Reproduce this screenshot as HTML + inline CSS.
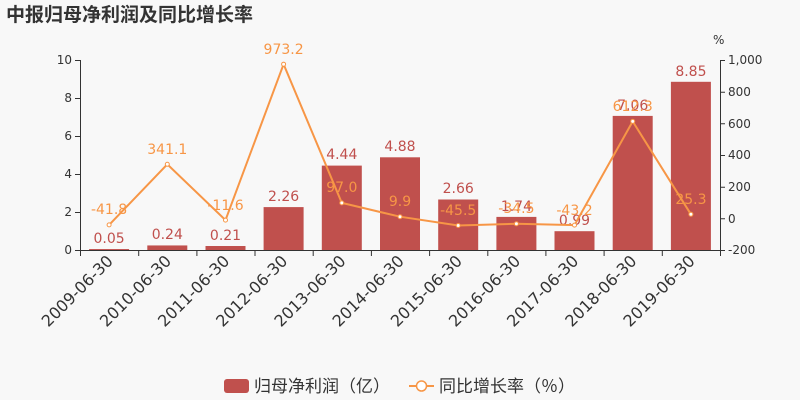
<!DOCTYPE html>
<html><head><meta charset="utf-8"><style>
body{margin:0;background:#f8f8f8;}
svg{display:block;font-family:"DejaVu Sans","Noto Sans CJK SC",sans-serif;}
</style></head><body>
<svg width="800" height="400" viewBox="0 0 800 400">
<rect width="800" height="400" fill="#f8f8f8"/>
<text x="6" y="21" font-size="19" font-weight="bold" fill="#333" font-family="'Noto Sans CJK SC',sans-serif">中报归母净利润及同比增长率</text>
<text x="713" y="44" font-size="12" fill="#333">%</text>
<g stroke="#333" stroke-width="1" fill="none">
<line x1="80.5" y1="60" x2="80.5" y2="250"/>
<line x1="720.5" y1="60" x2="720.5" y2="250"/>
<line x1="80" y1="250.5" x2="720" y2="250.5"/>
<path d="M75 60.5H80M75 98.5H80M75 136.5H80M75 174.5H80M75 212.5H80M75 250.5H80"/>
<path d="M720 60.5H725M720 92.2H725M720 123.8H725M720 155.5H725M720 187.2H725M720 218.8H725M720 250.5H725"/>
<path d="M80.5 250V256M138.7 250V256M196.9 250V256M255 250V256M313.2 250V256M371.4 250V256M429.6 250V256M487.8 250V256M545.9 250V256M604.1 250V256M662.3 250V256M720.5 250V256"/>
</g>
<g font-size="12" fill="#333" text-anchor="end">
<text x="72" y="64">10</text><text x="72" y="102">8</text><text x="72" y="140">6</text><text x="72" y="178">4</text><text x="72" y="216">2</text><text x="72" y="254">0</text>
</g>
<g font-size="12" fill="#333" text-anchor="start">
<text x="728" y="64">1,000</text><text x="728" y="96">800</text><text x="728" y="128">600</text><text x="728" y="159">400</text><text x="728" y="191">200</text><text x="728" y="223">0</text><text x="728" y="254">-200</text>
</g>
<g fill="#c0504d">
<rect x="89.1" y="249.05" width="40" height="0.95"/>
<rect x="147.3" y="245.44" width="40" height="4.56"/>
<rect x="205.5" y="246.01" width="40" height="3.99"/>
<rect x="263.6" y="207.1" width="40" height="42.9"/>
<rect x="321.8" y="165.6" width="40" height="84.4"/>
<rect x="380" y="157.3" width="40" height="92.7"/>
<rect x="438.2" y="199.5" width="40" height="50.5"/>
<rect x="496.4" y="216.9" width="40" height="33.1"/>
<rect x="554.5" y="231.2" width="40" height="18.8"/>
<rect x="612.7" y="115.9" width="40" height="134.1"/>
<rect x="670.9" y="81.8" width="40" height="168.2"/>
</g>
<g font-size="14" fill="#c0504d" text-anchor="middle">
<text x="109.1" y="243">0.05</text><text x="167.3" y="239">0.24</text><text x="225.5" y="240">0.21</text>
<text x="283.6" y="201">2.26</text><text x="341.8" y="159">4.44</text><text x="400" y="151">4.88</text>
<text x="458.2" y="193">2.66</text><text x="516.4" y="211">1.74</text><text x="574.5" y="225">0.99</text>
<text x="632.7" y="110">7.06</text><text x="690.9" y="76">8.85</text>
</g>
<polyline fill="none" stroke="#f79646" stroke-width="2" points="109.1,224.9 167.3,164.3 225.5,220.1 283.6,64.2 341.8,202.9 400,216.7 458.2,225.5 516.4,223.8 574.5,225.1 632.7,121.4 690.9,214.3"/>
<g fill="#fff" stroke="#f79646" stroke-width="1">
<circle cx="109.1" cy="224.9" r="2"/><circle cx="167.3" cy="164.3" r="2"/><circle cx="225.5" cy="220.1" r="2"/><circle cx="283.6" cy="64.2" r="2"/><circle cx="341.8" cy="202.9" r="2"/><circle cx="400" cy="216.7" r="2"/><circle cx="458.2" cy="225.5" r="2"/><circle cx="516.4" cy="223.8" r="2"/><circle cx="574.5" cy="225.1" r="2"/><circle cx="632.7" cy="121.4" r="2"/><circle cx="690.9" cy="214.3" r="2"/>
</g>
<g font-size="14" fill="#f79646" text-anchor="middle">
<text x="109.1" y="214">-41.8</text><text x="167.3" y="154">341.1</text><text x="225.5" y="210">-11.6</text>
<text x="283.6" y="54">973.2</text><text x="341.8" y="192">97.0</text><text x="400" y="206">9.9</text>
<text x="458.2" y="215">-45.5</text><text x="516.4" y="213">-34.5</text><text x="574.5" y="215">-43.2</text>
<text x="632.7" y="111">612.3</text><text x="690.9" y="204">25.3</text>
</g>
<g font-size="16" fill="#333" text-anchor="end">
<text transform="translate(114,262) rotate(-45)">2009-06-30</text>
<text transform="translate(172.2,262) rotate(-45)">2010-06-30</text>
<text transform="translate(230.4,262) rotate(-45)">2011-06-30</text>
<text transform="translate(288.5,262) rotate(-45)">2012-06-30</text>
<text transform="translate(346.7,262) rotate(-45)">2013-06-30</text>
<text transform="translate(404.9,262) rotate(-45)">2014-06-30</text>
<text transform="translate(463.1,262) rotate(-45)">2015-06-30</text>
<text transform="translate(521.3,262) rotate(-45)">2016-06-30</text>
<text transform="translate(579.4,262) rotate(-45)">2017-06-30</text>
<text transform="translate(637.6,262) rotate(-45)">2018-06-30</text>
<text transform="translate(695.8,262) rotate(-45)">2019-06-30</text>
</g>
<rect x="224" y="379" width="25" height="14" rx="3" fill="#c0504d"/>
<text x="254" y="392" font-size="17" fill="#333" font-family="'Noto Sans CJK SC',sans-serif">归母净利润（亿）</text>
<line x1="409" y1="386" x2="434" y2="386" stroke="#f79646" stroke-width="2"/>
<circle cx="421.5" cy="386" r="5" fill="#fff" stroke="#f79646" stroke-width="1.5"/>
<text x="439" y="392" font-size="17" fill="#333" font-family="'Noto Sans CJK SC',sans-serif">同比增长率（％）</text>
</svg>
</body></html>
